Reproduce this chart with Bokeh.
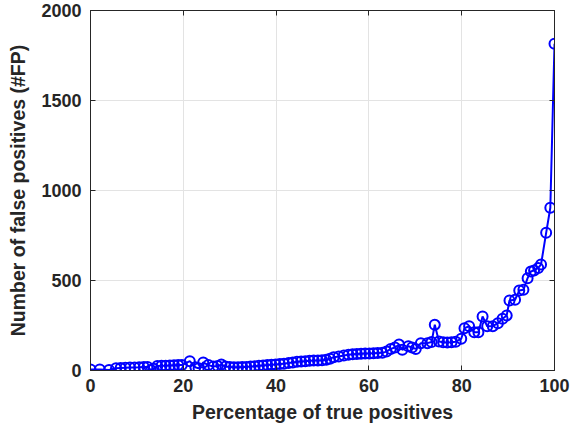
from bokeh.plotting import figure
from bokeh.models import LinearAxis, Range1d, FixedTicker, CustomJSTickFormatter
from bokeh.embed import file_html
from bokeh.resources import INLINE

tp_percent = [0, 2, 4, 5.5, 6.5, 7.5, 8.5, 9.5, 10.5, 11.5, 12.3, 13.0, 13.6, 14.4, 15.3, 16.2, 17.1, 18.0, 18.9, 19.7,
              21.4, 22.6, 23.3, 24.3, 25.4, 26.5, 27.4, 28.2, 29.1, 30.0, 30.9, 31.8, 32.7, 33.6, 34.5, 35.4, 36.3,
              37.2, 38.1, 39.0, 39.9, 40.8, 41.7, 42.7, 43.6, 44.5, 45.4, 46.3, 47.2, 48.1, 49.0, 49.9, 50.8, 51.6,
              52.4, 53.5, 54.6, 55.6, 56.5, 57.4, 58.3, 59.2, 60.1, 61.0, 61.9, 62.9, 63.8, 64.7, 65.6, 66.5, 67.2,
              68.5, 69.3, 70.1, 71.2, 72.6, 73.5, 74.2, 75.1, 76.0, 76.9, 77.8, 78.7, 79.9, 80.6, 81.6, 82.7, 83.6,
              84.5, 85.5, 86.7, 87.8, 88.8, 89.7, 90.3, 91.5, 92.4, 93.3, 94.2, 94.9, 95.6, 96.5, 97.1, 98.2, 99.1,
              100.0]
false_pos = [5, 5, 3, 12, 14, 15, 16, 17, 18, 20, 20, 3, 10, 25, 26, 27, 28, 29, 30, 30,
             52, 18, 12, 45, 30, 22, 25, 33, 22, 20, 18, 18, 20, 20, 22, 24, 26,
             28, 30, 32, 34, 36, 38, 42, 45, 48, 50, 52, 54, 55, 56, 57, 60, 65,
             74, 78, 83, 88, 90, 92, 93, 94, 95, 96, 97, 98, 105, 120, 128, 144, 115,
             135, 128, 120, 152, 152, 158, 254, 161, 157, 156, 157, 160, 176, 235, 246, 213, 213,
             300, 246, 246, 263, 287, 306, 389, 393, 444, 448, 513, 550, 556, 570, 589, 765, 904,
             1815]

x_ticks = [0, 20, 40, 60, 80, 100]
y_ticks = [0, 500, 1000, 1500, 2000]

TXT = "#262626"
FONT = "Liberation Sans"

p = figure(frame_width=464, frame_height=360, output_backend="svg", toolbar_location=None,
           x_range=Range1d(0, 100), y_range=Range1d(0, 2000),
           min_border_left=90, min_border_right=18, min_border_top=10, min_border_bottom=63)
p.background_fill_color = "white"
p.border_fill_color = "white"
p.outline_line_color = TXT
p.outline_line_width = 1

p.line(tp_percent, false_pos, line_color="#0000ff", line_width=2)
p.scatter(tp_percent, false_pos, marker="circle", size=10, fill_color=None,
          line_color="#0000ff", line_width=2)

for ax in (p.xaxis[0], p.yaxis[0]):
    ax.axis_line_color = TXT
    ax.major_tick_line_color = TXT
    ax.major_tick_in = 5
    ax.major_tick_out = 0
    ax.minor_tick_line_color = None
    ax.major_label_text_font = FONT
    ax.major_label_text_font_style = "bold"
    ax.major_label_text_font_size = "18px"
    ax.major_label_text_color = TXT
    ax.axis_label_text_font = FONT
    ax.axis_label_text_font_style = "bold"
    ax.axis_label_text_font_size = "19.5px"
    ax.axis_label_text_color = TXT

p.xaxis[0].ticker = FixedTicker(ticks=x_ticks)
p.yaxis[0].ticker = FixedTicker(ticks=y_ticks)
p.xaxis[0].axis_label = "Percentage of true positives"
p.yaxis[0].axis_label = "Number of false positives (#FP)"
p.xaxis[0].major_label_standoff = 8
p.yaxis[0].major_label_standoff = 9
p.xaxis[0].axis_label_standoff = 6
p.yaxis[0].axis_label_standoff = 9

for loc, tk in (("right", y_ticks), ("above", x_ticks)):
    ax = LinearAxis(ticker=FixedTicker(ticks=tk),
                    formatter=CustomJSTickFormatter(code="return '';"))
    ax.axis_line_color = TXT
    ax.major_tick_line_color = TXT
    ax.major_tick_in = 5
    ax.major_tick_out = 0
    ax.minor_tick_line_color = None
    ax.major_label_text_font_size = "1px"
    ax.major_label_standoff = 0
    p.add_layout(ax, loc)

p.xgrid.ticker = FixedTicker(ticks=x_ticks)
p.ygrid.ticker = FixedTicker(ticks=y_ticks)
p.grid.grid_line_color = "#e3e3e3"
p.grid.grid_line_width = 1

open("out.html", "w").write(file_html(p, INLINE))
